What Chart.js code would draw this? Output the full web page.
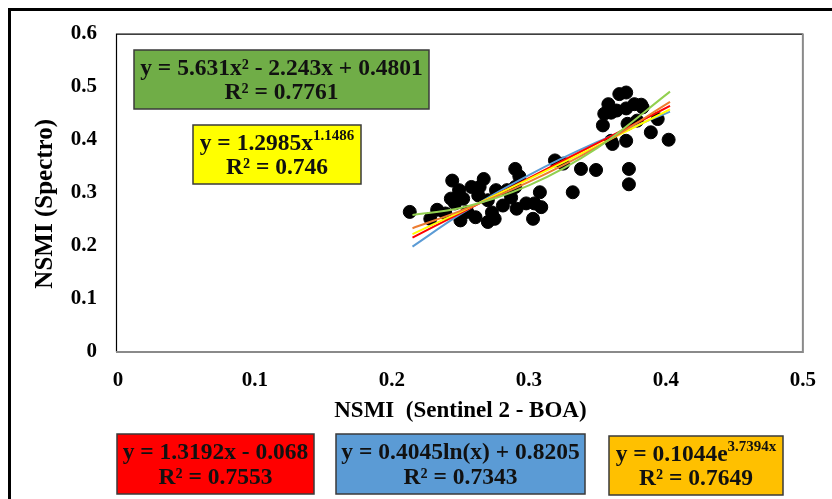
<!DOCTYPE html>
<html>
<head>
<meta charset="utf-8">
<script src="https://cdn.jsdelivr.net/npm/chart.js@4.4.1/dist/chart.umd.min.js"></script>
<style>
  html, body { margin: 0; padding: 0; background: #fff; }
  canvas { display: block; }
</style>
</head>
<body>
<canvas id="chart" width="832" height="499"></canvas>
<script>
// --- Dados ---
const nsmiSentinel = [0.213, 0.228, 0.233, 0.244, 0.249, 0.243, 0.252, 0.250, 0.255, 0.261,
  0.258, 0.267, 0.264, 0.263, 0.270, 0.270, 0.276, 0.275, 0.281, 0.290,
  0.290, 0.291, 0.298, 0.303, 0.304, 0.308, 0.309, 0.319, 0.325, 0.332,
  0.338, 0.349, 0.239, 0.246, 0.273, 0.284, 0.293, 0.287,
  0.354, 0.355, 0.358, 0.361, 0.366, 0.371, 0.372, 0.371, 0.373, 0.373,
  0.377, 0.379, 0.383, 0.389, 0.394, 0.402, 0.360, 0.364, 0.371, 0.360, 0.382];
const nsmiSpectro = [0.264, 0.251, 0.268, 0.323, 0.305, 0.289, 0.289, 0.248, 0.264, 0.254,
  0.311, 0.326, 0.311, 0.295, 0.286, 0.245, 0.305, 0.251, 0.276, 0.345,
  0.311, 0.270, 0.280, 0.251, 0.280, 0.301, 0.273, 0.361, 0.355, 0.301,
  0.345, 0.343, 0.261, 0.280, 0.263, 0.305, 0.331, 0.291,
  0.427, 0.449, 0.467, 0.392, 0.486, 0.489, 0.430, 0.398, 0.345, 0.316,
  0.467, 0.436, 0.461, 0.414, 0.439, 0.400, 0.451, 0.455, 0.459, 0.398, 0.466];

// linhas de tendência
const trendX = [0.215, 0.25, 0.30, 0.35, 0.403];
const linearY = [0.2156, 0.2618, 0.3278, 0.3937, 0.4636];
const logY = [0.1987, 0.2597, 0.3335, 0.3958, 0.4529];
const powerY = [0.2222, 0.2642, 0.3258, 0.3889, 0.4572];
const expY = [0.2333, 0.2659, 0.3205, 0.3865, 0.4712];
const polyY = [0.2582, 0.2713, 0.3140, 0.3848, 0.4907];

const xTicks = [0, 0.1, 0.2, 0.3, 0.4, 0.5];
const yTicks = [0, 0.1, 0.2, 0.3, 0.4, 0.5, 0.6];

// caixas com as equações
const eqBoxes = [
  { x: 134, y: 50, w: 295, h: 59, fill: '#70AD47',
    lines: [[['y = 5.631x² - 2.243x + 0.4801']], [['R² = 0.7761']]] },
  { x: 193, y: 125, w: 168, h: 59, fill: '#FFFF00',
    lines: [[['y = 1.2985x'], ['1.1486', true]], [['R² = 0.746']]] },
  { x: 117, y: 434, w: 197, h: 60, fill: '#FF0000',
    lines: [[['y = 1.3192x - 0.068']], [['R² = 0.7553']]] },
  { x: 336, y: 434, w: 249, h: 60, fill: '#5B9BD5',
    lines: [[['y = 0.4045ln(x) + 0.8205']], [['R² = 0.7343']]] },
  { x: 609, y: 436, w: 174, h: 59, fill: '#FFC000',
    lines: [[['y = 0.1044e'], ['3.7394x', true]], [['R² = 0.7649']]] }
];

const FONT = '"Liberation Serif", "Times New Roman", serif';

function toPoints(xs, ys) {
  return xs.map((x, i) => ({ x: x, y: ys[i] }));
}

function drawRich(ctx, parts, cx, cy, size) {
  const supSize = Math.round(size * 0.64);
  let total = 0;
  parts.forEach(p => {
    ctx.font = `bold ${p[1] ? supSize : size}px ${FONT}`;
    total += ctx.measureText(p[0]).width;
  });
  let x = cx - total / 2;
  ctx.textBaseline = 'middle';
  ctx.textAlign = 'left';
  parts.forEach(p => {
    ctx.font = `bold ${p[1] ? supSize : size}px ${FONT}`;
    ctx.fillText(p[0], x, p[1] ? cy - size * 0.32 : cy);
    x += ctx.measureText(p[0]).width;
  });
}

const framePlugin = {
  id: 'frame',
  beforeDraw(chart) {
    const ctx = chart.ctx;
    const a = chart.chartArea;
    ctx.save();
    ctx.fillStyle = '#fff';
    ctx.fillRect(0, 0, chart.width, chart.height);
    // moldura externa
    ctx.strokeStyle = '#000';
    ctx.lineWidth = 3;
    ctx.beginPath();
    ctx.moveTo(9.5, chart.height);
    ctx.lineTo(9.5, 9.5);
    ctx.lineTo(chart.width, 9.5);
    ctx.stroke();
    // borda da área do gráfico
    ctx.lineWidth = 1.2;
    ctx.beginPath();
    ctx.moveTo(a.left - 1.5, a.bottom);
    ctx.lineTo(a.left - 1.5, a.top + 0.5);
    ctx.lineTo(a.right, a.top + 0.5);
    ctx.stroke();
    ctx.strokeStyle = '#8a8a8a';
    ctx.lineWidth = 2;
    ctx.beginPath();
    ctx.moveTo(a.right, a.top);
    ctx.lineTo(a.right, a.bottom);
    ctx.lineTo(a.left - 2, a.bottom);
    ctx.stroke();
    ctx.restore();
  },
  afterDraw(chart) {
    const ctx = chart.ctx;
    const a = chart.chartArea;
    ctx.save();
    // título do eixo Y
    ctx.translate(46, (a.top + a.bottom) / 2 + 11);
    ctx.rotate(-Math.PI / 2);
    ctx.fillStyle = '#000';
    ctx.font = `bold 25px ${FONT}`;
    ctx.textAlign = 'center';
    ctx.textBaseline = 'middle';
    ctx.fillText('NSMI (Spectro)', 0, 0);
    ctx.restore();

    eqBoxes.forEach(b => {
      ctx.save();
      ctx.fillStyle = b.fill;
      ctx.fillRect(b.x, b.y, b.w, b.h);
      ctx.strokeStyle = '#3a3a3a';
      ctx.lineWidth = 1.5;
      ctx.strokeRect(b.x, b.y, b.w, b.h);
      ctx.fillStyle = '#111';
      drawRich(ctx, b.lines[0], b.x + b.w / 2, b.y + b.h * 0.32, 23.5);
      drawRich(ctx, b.lines[1], b.x + b.w / 2, b.y + b.h * 0.73, 23.5);
      ctx.restore();
    });
  }
};

function trendSet(ys, color) {
  return {
    type: 'line',
    data: toPoints(trendX, ys),
    borderColor: color,
    borderWidth: 2,
    pointRadius: 0,
    fill: false,
    cubicInterpolationMode: 'monotone'
  };
}

new Chart(document.getElementById('chart').getContext('2d'), {
  type: 'scatter',
  data: {
    datasets: [
      trendSet(polyY, '#92D050'),
      trendSet(expY, '#ED7D31'),
      trendSet(powerY, '#FFFF00'),
      trendSet(linearY, '#FF0000'),
      trendSet(logY, '#5B9BD5'),
      {
        data: toPoints(nsmiSentinel, nsmiSpectro),
        backgroundColor: '#000',
        borderColor: '#000',
        pointRadius: 6.5,
        pointHoverRadius: 6.5
      }
    ]
  },
  options: {
    responsive: false,
    animation: false,
    devicePixelRatio: 1,
    layout: { padding: { left: 0, top: 32, right: 28, bottom: 0 } },
    plugins: { legend: { display: false }, tooltip: { enabled: false } },
    scales: {
      x: {
        type: 'linear', min: 0, max: 0.5,
        afterFit: s => { s.height = 147; },
        afterBuildTicks: s => { s.ticks = xTicks.map(v => ({ value: v })); },
        grid: { display: false, drawTicks: false },
        border: { display: false },
        ticks: {
          color: '#000', padding: 16,
          font: { family: FONT, size: 21, weight: 'bold' },
          callback: v => String(+v.toFixed(1))
        },
        title: {
          display: true, text: 'NSMI  (Sentinel 2 - BOA)', color: '#000',
          font: { family: FONT, size: 23, weight: 'bold' },
          padding: { top: 0, bottom: 74 }
        }
      },
      y: {
        type: 'linear', min: 0, max: 0.6,
        afterFit: s => { s.width = 118; },
        afterBuildTicks: s => { s.ticks = yTicks.map(v => ({ value: v })); },
        grid: { display: false, drawTicks: false },
        border: { display: false },
        ticks: {
          color: '#000', padding: 21,
          font: { family: FONT, size: 21, weight: 'bold' },
          callback: v => String(+v.toFixed(1))
        }
      }
    }
  },
  plugins: [framePlugin]
});
</script>
</body>
</html>
